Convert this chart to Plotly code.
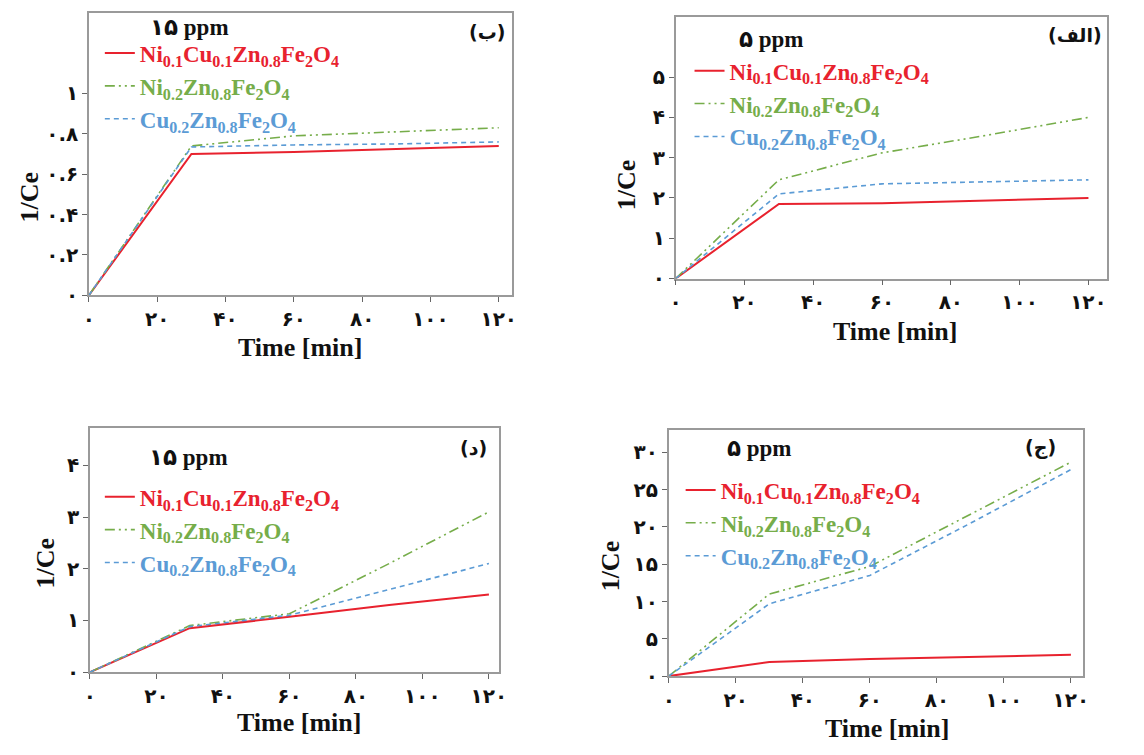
import plotly.graph_objects as go

# ---------------- data ----------------
time_min = [0, 30, 60, 90, 120]

# (ب) 15 ppm – top left
b_red = [0, 0.70, 0.71, 0.725, 0.74]
b_green = [0, 0.74, 0.79, 0.81, 0.83]
b_blue = [0, 0.735, 0.745, 0.75, 0.76]

# (الف) 5 ppm – top right
a_red = [0, 1.85, 1.87, 1.93, 2.0]
a_green = [0, 2.45, 3.12, 3.55, 4.0]
a_blue = [0, 2.1, 2.35, 2.4, 2.45]

# (د) 15 ppm – bottom left
d_red = [0, 0.85, 1.07, 1.3, 1.5]
d_green = [0, 0.9, 1.13, 2.1, 3.1]
d_blue = [0, 0.88, 1.1, 1.6, 2.1]

# (ج) 5 ppm – bottom right
j_red = [0, 1.9, 2.3, 2.6, 2.85]
j_green = [0, 11.0, 14.7, 21.7, 28.7]
j_blue = [0, 9.7, 13.5, 20.5, 27.7]

x_tickvals = [0, 20, 40, 60, 80, 100, 120]
x_ticktext = ["۰", "۲۰", "۴۰", "۶۰", "۸۰", "۱۰۰", "۱۲۰"]

b_yvals = [0, 0.2, 0.4, 0.6, 0.8, 1.0]
b_ytext = ["۰", "۰.۲", "۰.۴", "۰.۶", "۰.۸", "۱"]
a_yvals = [0, 1, 2, 3, 4, 5]
a_ytext = ["۰", "۱", "۲", "۳", "۴", "۵"]
d_yvals = [0, 1, 2, 3, 4]
d_ytext = ["۰", "۱", "۲", "۳", "۴"]
j_yvals = [0, 5, 10, 15, 20, 25, 30]
j_ytext = ["۰", "۵", "۱۰", "۱۵", "۲۰", "۲۵", "۳۰"]

series_names = [
    "Ni<sub>0.1</sub>Cu<sub>0.1</sub>Zn<sub>0.8</sub>Fe<sub>2</sub>O<sub>4</sub>",
    "Ni<sub>0.2</sub>Zn<sub>0.8</sub>Fe<sub>2</sub>O<sub>4</sub>",
    "Cu<sub>0.2</sub>Zn<sub>0.8</sub>Fe<sub>2</sub>O<sub>4</sub>",
]
RED = "#e8222e"
GREEN = "#76ad4a"
BLUE = "#5b9bd5"
series_colors = [RED, GREEN, BLUE]
series_dash = ["solid", "10px,4px,2px,4px,2px,4px", "5px,4px"]
series_width = [2, 1.6, 1.6]

panels = [
    dict(data=[b_red, b_green, b_blue], yv=b_yvals, yt=b_ytext,
         dx=(84, 512), dy=(13, 300), xr=123.8, yr=1.4,
         leg=(95, 32), ppm="۱۵ ppm", ppmpos=(144, 28), corner="(ب)", cpos=(507, 33),
         xt=(298, 353), yt_pos=(24, 200)),
    dict(data=[a_red, a_green, a_blue], yv=a_yvals, yt=a_ytext,
         dx=(678, 1115), dy=(17, 283), xr=125.5, yr=6.5,
         leg=(692, 50), ppm="۵ ppm", ppmpos=(740, 40), corner="(الف)", cpos=(1112, 36),
         xt=(900, 337), yt_pos=(628, 188)),
    dict(data=[d_red, d_green, d_blue], yv=d_yvals, yt=d_ytext,
         dx=(85, 499), dy=(435, 683), xr=123.0, yr=4.72,
         leg=(95, 483), ppm="۱۵ ppm", ppmpos=(143, 465), corner="(د)", cpos=(489, 455),
         xt=(297, 734), yt_pos=(40, 572)),
    dict(data=[j_red, j_green, j_blue], yv=j_yvals, yt=j_ytext,
         dx=(671, 1090), dy=(437, 687), xr=123.5, yr=33,
         leg=(683, 476), ppm="۵ ppm", ppmpos=(728, 456), corner="(ج)", cpos=(1065, 455),
         xt=(892, 740), yt_pos=(612, 575)),
]

W, H = 1144, 755
fig = go.Figure()
annotations = []
layout_extra = {}

for i, p in enumerate(panels):
    k = "" if i == 0 else str(i + 1)
    legname = "legend" if i == 0 else f"legend{i + 1}"
    for s in range(3):
        fig.add_trace(go.Scatter(
            x=time_min, y=p["data"][s], mode="lines",
            name=f"<span style='color:{series_colors[s]}'>{series_names[s]}</span>",
            line=dict(color=series_colors[s], dash=series_dash[s], width=series_width[s]),
            xaxis=f"x{k}", yaxis=f"y{k}", legend=legname, legendgroup=f"g{i}_{s}",
        ))
    axis_common = dict(showline=True, mirror=True, linecolor="#9a9a9a", linewidth=1.5,
                       ticks="outside", ticklen=5, tickcolor="#666", showgrid=False,
                       zeroline=False,
                       tickfont=dict(family="DejaVu Sans", size=20, color="#111", weight="bold"))
    layout_extra[f"xaxis{k}"] = dict(
        domain=[p["dx"][0] / W, p["dx"][1] / W], range=[0, p["xr"]],
        tickvals=x_tickvals, ticktext=x_ticktext, anchor=f"y{k}", **axis_common)
    layout_extra[f"yaxis{k}"] = dict(
        domain=[1 - p["dy"][1] / H, 1 - p["dy"][0] / H], range=[0, p["yr"]],
        tickvals=p["yv"], ticktext=p["yt"], anchor=f"x{k}", **axis_common)
    layout_extra[legname] = dict(
        x=p["leg"][0] / W, y=1 - p["leg"][1] / H, xanchor="left", yanchor="top",
        bgcolor="rgba(0,0,0,0)", tracegroupgap=0, itemwidth=30,
        font=dict(family="Liberation Serif", size=23, weight="bold"))
    annotations.append(dict(x=p["ppmpos"][0] / W, y=1 - p["ppmpos"][1] / H, xref="paper", yref="paper",
                            text=p["ppm"], showarrow=False, xanchor="left", yanchor="middle",
                            font=dict(family="Liberation Serif, DejaVu Sans", size=23, color="#111", weight="bold")))
    annotations.append(dict(x=p["cpos"][0] / W, y=1 - p["cpos"][1] / H, xref="paper", yref="paper",
                            text=p["corner"], showarrow=False, xanchor="right", yanchor="middle",
                            font=dict(family="DejaVu Sans", size=19, color="#111", weight="bold")))
    annotations.append(dict(x=p["xt"][0] / W, y=1 - p["xt"][1] / H, xref="paper", yref="paper",
                            text="Time [min]", showarrow=False, xanchor="center", yanchor="middle",
                            font=dict(family="Liberation Serif", size=26, color="#111", weight="bold")))
    annotations.append(dict(x=p["yt_pos"][0] / W, y=1 - p["yt_pos"][1] / H, xref="paper", yref="paper",
                            text="1/Ce", showarrow=False, textangle=-90, xanchor="center", yanchor="middle",
                            font=dict(family="Liberation Serif", size=26, color="#111", weight="bold")))

fig.update_layout(
    width=W, height=H, margin=dict(l=0, r=0, t=0, b=0),
    paper_bgcolor="white", plot_bgcolor="white",
    showlegend=True, annotations=annotations, **layout_extra,
)

fig.write_html("out.html")
